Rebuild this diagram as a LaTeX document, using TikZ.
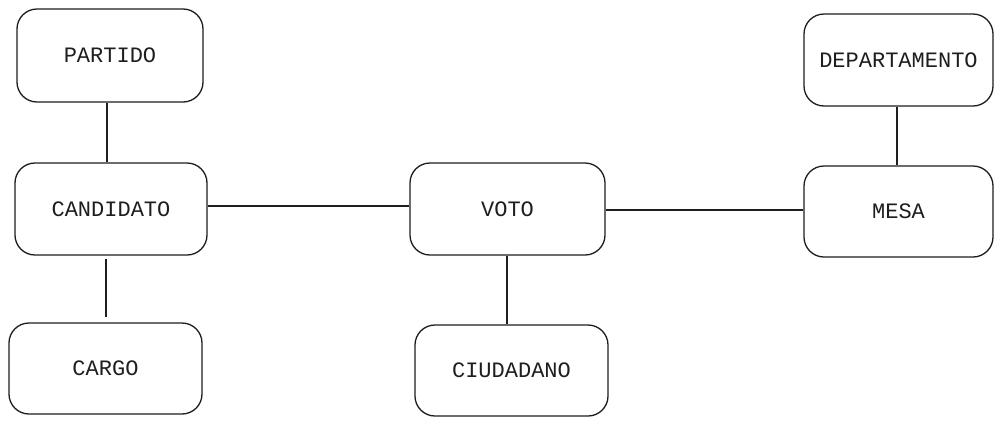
\documentclass[tikz,border=0pt]{standalone}
\usepackage{fontspec}
\newfontfamily\handfont{Liberation Mono}
\definecolor{ink}{HTML}{1E1E1E}
\tikzset{
  entity/.style={draw=ink, line width=1.3pt, rounded corners=20pt, fill=white,
    inner sep=0pt, font=\handfont\fontsize{22}{26}\selectfont, text=ink},
  link/.style={draw=ink, line width=1.1pt}
}
\begin{document}
\begin{tikzpicture}[x=1pt, y=-1pt]
\useasboundingbox (0,0) rectangle (1006,426);
\node[entity, minimum width=186pt, minimum height=93pt] (partido) at (110,55.5) {PARTIDO};
\node[entity, minimum width=192pt, minimum height=92pt] (candidato) at (111,209) {CANDIDATO};
\node[entity, minimum width=193pt, minimum height=91pt] (cargo) at (105.5,368.5) {CARGO};
\node[entity, minimum width=195pt, minimum height=92pt] (voto) at (507.5,209) {VOTO};
\node[entity, minimum width=193pt, minimum height=91pt] (ciudadano) at (511.5,370.5) {CIUDADANO};
\node[entity, minimum width=189pt, minimum height=92pt] (departamento) at (898.5,60) {DEPARTAMENTO};
\node[entity, minimum width=189pt, minimum height=91pt] (mesa) at (898.5,211.5) {MESA};

\draw[link] ([xshift=-3pt]partido.south) -- ([xshift=-4pt]candidato.north);
\draw[link, shorten <=3pt, shorten >=5pt] ([xshift=-5pt]candidato.south) -- ([xshift=0.5pt]cargo.north);
\draw[link] ([yshift=3pt]candidato.east) -- ([yshift=3pt]voto.west);
\draw[link] ([xshift=-0.5pt]voto.south) -- ([xshift=-4.5pt]ciudadano.north);
\draw[link] ([yshift=-1pt]voto.east) -- ([yshift=1.5pt]mesa.west);
\draw[link] ([xshift=-1.5pt]departamento.south) -- ([xshift=-1.5pt]mesa.north);
\end{tikzpicture}
\end{document}
